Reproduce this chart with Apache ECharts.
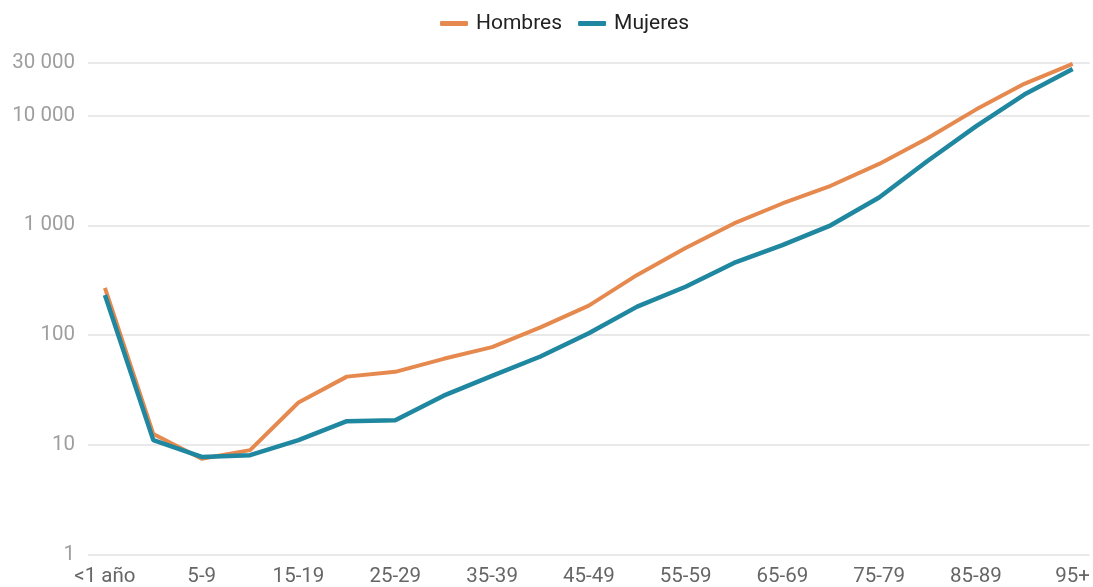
<!DOCTYPE html>
<html>
<head>
    <meta charset="utf-8">
    <script src="https://cdn.jsdelivr.net/npm/echarts@6/dist/echarts.min.js"></script>
    <style>
        body {
            margin: 0px;
            padding: 0px;
            background: #fff;
        }
        #chart {
            width: 1093px;
            height: 587px;
        }
    </style>
</head>
<body>
    <div id="chart"></div>
    <script>
        // grupos de edad
        var edades = ['<1 año', '1-4', '5-9', '10-14', '15-19', '20-24', '25-29', '30-34', '35-39', '40-44',
            '45-49', '50-54', '55-59', '60-64', '65-69', '70-74', '75-79', '80-84', '85-89', '90-94', '95+'];
        var hombres = [270, 12.6, 7.5, 9.0, 24.4, 42, 46.4, 61, 78, 118,
            186, 354, 621, 1040, 1580, 2290, 3620, 6210, 11300, 19400, 29400];
        var mujeres = [232, 11.1, 7.8, 8.1, 11.1, 16.5, 16.8, 28.2, 42.7, 64,
            104, 182, 276, 455, 660, 1000, 1790, 3850, 7960, 15500, 26500];
        var etiquetasX = [0, 2, 4, 6, 8, 10, 12, 14, 16, 18, 20];
        var etiquetasY = [1, 10, 100, 1000, 10000, 30000];

        function pares(arr) {
            return arr.map(function (v, i) { return [i, v]; });
        }

        function miles(v) {
            var n = Math.round(v);
            return String(n).replace(/\B(?=(\d{3})+(?!\d))/g, ' ');
        }

        var chart = echarts.init(document.getElementById('chart'));
        chart.setOption({
            animation: false,
            textStyle: { fontFamily: 'Roboto' },
            legend: {
                top: 8,
                left: 435,
                itemWidth: 28,
                itemHeight: 5,
                itemGap: 16,
                icon: 'roundRect',
                textStyle: { fontSize: 21, color: '#222', padding: [0, 0, 0, 3] },
                data: ['Hombres', 'Mujeres']
            },
            grid: { left: 88, right: 2, top: 63, bottom: 29 },
            xAxis: {
                type: 'value',
                min: -0.35,
                max: 20.35,
                axisLine: { show: false },
                axisTick: { show: false },
                splitLine: { show: false },
                axisLabel: {
                    customValues: etiquetasX,
                    margin: 11,
                    fontSize: 20.5,
                    color: '#666',
                    formatter: function (v) { return edades[Math.round(v)]; }
                }
            },
            yAxis: {
                type: 'log',
                logBase: 10,
                min: 1,
                max: 30000,
                axisLine: { show: false },
                axisTick: { show: false },
                splitLine: { lineStyle: { color: '#e2e2e2', width: 1.5 } },
                axisLabel: {
                    customValues: etiquetasY,
                    margin: 13,
                    fontSize: 20.5,
                    color: '#9e9e9e',
                    formatter: miles
                }
            },
            series: [{
                name: 'Hombres',
                type: 'line',
                data: pares(hombres),
                showSymbol: false,
                color: '#e5894e',
                lineStyle: { width: 4 }
            }, {
                name: 'Mujeres',
                type: 'line',
                data: pares(mujeres),
                showSymbol: false,
                color: '#1f87a0',
                lineStyle: { width: 4.5 }
            }]
        });
    </script>
</body>
</html>
